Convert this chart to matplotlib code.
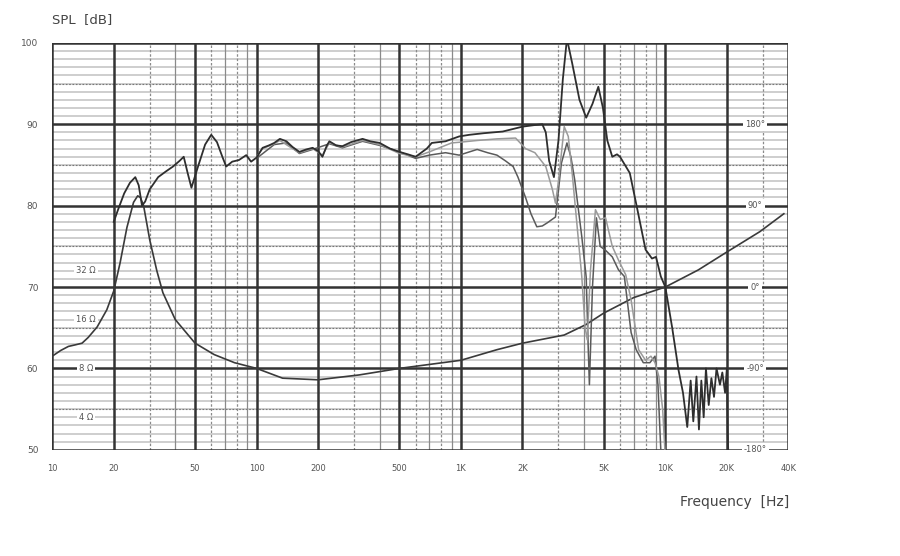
import numpy as np
import matplotlib
matplotlib.use("Agg")
import matplotlib.pyplot as plt

# on-axis SPL (dark)
f_on = [20, 21, 22.5, 24, 25.5, 26.5, 27.5, 28.5, 30, 33, 36, 39, 42, 44, 46, 48, 52, 56, 60, 64, 68, 71,
        76, 82, 89, 94, 100, 107, 115, 122, 130, 140, 150, 162, 175, 188, 200, 210, 220, 227, 245, 263,
        290, 330, 360, 400, 450, 500, 550, 600, 680, 720, 840, 980, 1100, 1300, 1600, 2000, 2300, 2500,
        2600, 2700, 2850, 3000, 3150, 3300, 3500, 3800, 4100, 4400, 4700, 4950, 5200, 5500, 5800, 6000,
        6700, 7300, 8000, 8600, 9000, 9500, 10000, 10800, 11600, 12200, 12800, 13300, 13700, 14200,
        14600, 15000, 15400, 15800, 16300, 16800, 17300, 17800, 18500, 19000, 19600, 20000, 20200, 20400]
spl_on = [78.0, 79.5, 81.5, 82.8, 83.5, 82.5, 80.0, 80.5, 82.0, 83.5, 84.2, 84.8, 85.5, 86.0, 84.0, 82.2,
          85.0, 87.5, 88.7, 87.8, 86.0, 84.8, 85.4, 85.6, 86.2, 85.4, 85.9, 87.1, 87.4, 87.7, 88.2, 87.9,
          87.2, 86.6, 86.9, 87.1, 86.7, 86.0, 87.3, 87.9, 87.4, 87.3, 87.8, 88.2, 87.9, 87.7, 87.0, 86.6,
          86.3, 86.0, 87.0, 87.7, 87.9, 88.5, 88.7, 88.9, 89.1, 89.7, 89.9, 90.0, 89.0, 85.5, 83.5, 88.0,
          95.5, 100.5, 97.5, 93.0, 90.8, 92.5, 94.6, 92.0, 88.0, 86.0, 86.3, 86.0, 84.0, 79.5, 74.6, 73.5,
          73.7, 71.3, 70.0, 65.0, 59.8, 57.0, 52.8, 58.5, 53.5, 59.0, 52.5, 58.5, 54.0, 60.0, 55.5, 58.8,
          56.5, 60.0, 58.0, 59.5, 57.0, 60.0, 52.0, 48.0]

# 30 deg off-axis (grey)
f_30 = [100, 107, 122, 130, 150, 162, 188, 210, 227, 263, 330, 400, 500, 600, 700, 840, 900, 1000, 1200,
        1500, 1850, 2070, 2300, 2600, 2800, 2900, 3000, 3200, 3350, 3500, 3700, 3900, 4050, 4150, 4300,
        4550, 4800, 5100, 5500, 5900, 6400, 6800, 7400, 8000, 8500, 8900, 9300, 9700, 10000]
spl_30 = [86.0, 87.0, 87.6, 88.0, 87.0, 86.5, 87.0, 86.2, 87.7, 87.2, 88.0, 87.5, 86.4, 86.0, 86.6, 87.4,
          87.7, 87.8, 88.0, 88.2, 88.3, 87.0, 86.5, 84.8, 82.0, 80.3, 83.0, 89.7, 88.5, 84.0, 77.5, 71.3,
          65.0, 63.5, 72.0, 79.5, 78.3, 78.5, 75.0, 73.3, 71.5, 68.4, 62.3, 61.0, 61.5, 60.7, 59.0, 55.0,
          49.0]

# 60 deg off-axis (mid)
f_60 = [100, 122, 140, 162, 188, 227, 263, 330, 400, 500, 600, 700, 840, 980, 1100, 1200, 1350, 1500,
        1650, 1800, 1900, 2070, 2200, 2350, 2500, 2650, 2900, 3100, 3300, 3450, 3600, 3900, 4100, 4200,
        4250, 4400, 4600, 4800, 5100, 5500, 5900, 6300, 6800, 7200, 7800, 8400, 8900, 9200, 9500, 9700]
spl_60 = [85.8, 87.5, 87.7, 86.4, 86.9, 87.6, 87.1, 87.9, 87.4, 86.6, 85.8, 86.2, 86.5, 86.2, 86.6, 86.9,
          86.5, 86.2, 85.5, 84.8, 83.5, 81.0, 79.0, 77.4, 77.5, 77.9, 78.6, 85.2, 87.7, 86.0, 83.2, 76.2,
          71.2, 62.0, 58.0, 70.0, 78.5, 75.0, 74.5, 73.7, 72.1, 71.3, 64.4, 62.3, 60.7, 60.7, 61.5, 58.0,
          50.0, 48.0]

# impedance, drawn on the dB scale (8 ohm = 60)
f_imp = [10, 11, 12, 13, 14, 15, 16.6, 18.5, 20, 21.5, 23.2, 25, 26.2, 27, 28, 30, 32.5, 34.8, 40, 50, 62,
         78, 100, 134, 200, 318, 500, 1000, 1500, 2000, 3200, 4100, 5000, 7000, 10000, 14500, 20000,
         29000, 38000]
imp = [61.5, 62.2, 62.7, 62.9, 63.1, 63.8, 65.1, 67.2, 69.5, 73.0, 77.3, 80.4, 81.2, 81.0, 80.0, 75.8,
       72.0, 69.3, 66.0, 63.1, 61.7, 60.7, 60.0, 58.8, 58.6, 59.2, 60.0, 61.0, 62.3, 63.1, 64.1, 65.4,
       66.8, 68.7, 70.0, 72.1, 74.3, 76.8, 79.0]

x_major = [10, 20, 50, 100, 200, 500, 1000, 2000, 5000, 10000, 20000, 40000]
x_labels = ['10', '20', '50', '100', '200', '500', '1K', '2K', '5K', '10K', '20K', '40K']
x_minor = [30, 40, 60, 70, 80, 90, 300, 400, 600, 700, 800, 900, 3000, 4000, 6000, 7000, 8000, 9000, 30000]
y_major = [50, 60, 70, 80, 90, 100]

ohm_labels = ['4 Ω', '8 Ω', '16 Ω', '32 Ω']
ohm_levels = [54, 60, 66, 72]
phase_labels = ['-180°', '-90°', '0°', '90°', '180°']
phase_levels = [50, 60, 70, 80, 90]

fig = plt.figure(figsize=(9, 5.56), dpi=100)
ax = fig.add_axes([0.058, 0.191, 0.818, 0.732])
ax.set_xscale('log')
ax.set_xlim(10, 40000)
ax.set_ylim(50, 100)

# grid
for y in np.arange(51, 100, 1):
    if y % 10 == 0:
        continue
    ax.axhline(y, color='#cacaca', lw=1.3, zorder=1)
    if y % 5 == 0:
        ax.axhline(y, color='#777777', lw=0.8, ls=(0, (1.5, 1.5)), zorder=1)
for y in y_major:
    ax.axhline(y, color='#333333', lw=1.8, zorder=2)
for i, x in enumerate(x_minor):
    ax.axvline(x, color='#8a8a8a', lw=0.9, ls='-' if i % 2 else (0, (2, 1.5)), zorder=1)
for x in x_major:
    ax.axvline(x, color='#333333', lw=1.8, zorder=2)

for s in ax.spines.values():
    s.set_visible(False)
ax.tick_params(which='both', length=0)
ax.set_xticks(x_major)
ax.set_xticklabels(x_labels, fontsize=6, color='#555555')
ax.xaxis.set_minor_locator(matplotlib.ticker.NullLocator())
ax.tick_params(axis='x', pad=10)
ax.set_yticks(y_major)
ax.set_yticklabels([str(v) for v in y_major], fontsize=6.5, color='#555555')
ax.tick_params(axis='y', pad=10)

# curves
ax.plot(f_imp, imp, color='#3a3a3a', lw=1.2, zorder=5)
ax.plot(f_60, spl_60, color='#5a5a5a', lw=1.1, zorder=5)
ax.plot(f_30, spl_30, color='#9a9a9a', lw=1.1, zorder=5)
ax.plot(f_on, spl_on, color='#2e2e2e', lw=1.3, zorder=6)

# scale labels
for lab, lev in zip(ohm_labels, ohm_levels):
    ax.text(14.6, lev, lab, fontsize=6, color='#555555', ha='center', va='center', zorder=4,
            bbox=dict(facecolor='white', edgecolor='none', pad=1.5))
for lab, lev in zip(phase_labels, phase_levels):
    ax.text(27500, lev, lab, fontsize=6, color='#555555', ha='center', va='center', zorder=4,
            bbox=dict(facecolor='white', edgecolor='none', pad=1.5))

fig.text(0.058, 0.965, 'SPL  [dB]', fontsize=9.5, color='#444444', ha='left', va='center')
fig.text(0.877, 0.098, 'Frequency  [Hz]', fontsize=10, color='#444444', ha='right', va='center')

fig.savefig('out.png', dpi=100)
